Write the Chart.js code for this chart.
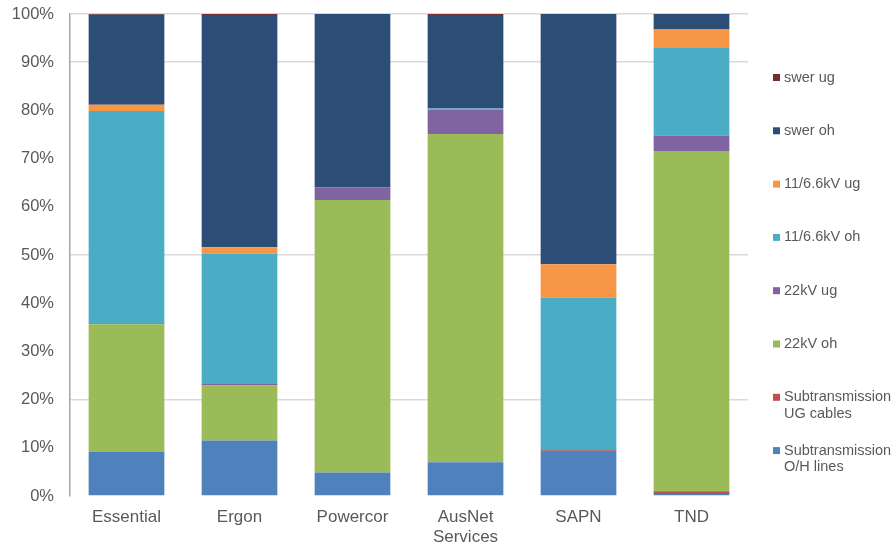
<!DOCTYPE html>
<html>
<head>
<meta charset="utf-8">
<script src="https://cdn.jsdelivr.net/npm/chart.js@4/dist/chart.umd.min.js"></script>
<style>
  html, body { margin: 0; padding: 0; background: #fff; }
  #wrap { width: 896px; height: 546px; position: relative; }
</style>
</head>
<body>
<div id="wrap"><canvas id="lengthChart"></canvas></div>
<script>
// categories and shares (%) per network, bottom of the stack first
const networks = ['Essential', 'Ergon', 'Powercor', ['AusNet', 'Services'], 'SAPN', 'TND'];

const subOhLines   = [9.2, 11.5, 4.9, 7.0, 9.4, 0.4];
const subUgCables  = [0.05, 0, 0, 0, 0.3, 0.6];
const kv22Oh       = [26.4, 11.4, 56.5, 68.1, 0, 70.6];
const kv22Ug       = [0.2, 0.5, 2.6, 5.1, 0, 3.2];
const kv11Oh       = [44.0, 26.9, 0, 0.2, 31.5, 18.3];
const kv11Ug       = [1.3, 1.3, 0, 0, 6.9, 3.7];
const swerOh       = [18.7, 48.2, 36.0, 19.4, 51.9, 3.2];
const swerUg       = [0.2, 0.2, 0, 0.2, 0, 0];

const yTicks = [0, 10, 20, 30, 40, 50, 60, 70, 80, 90, 100];
const gridAt = [20, 50, 90, 100];

document.addEventListener('DOMContentLoaded', function () {
  Chart.defaults.font.family = "'Liberation Sans', Arial, sans-serif";
  Chart.defaults.color = '#595959';

  // legend drawn in the right margin, top item first
  const sideLegend = {
    id: 'sideLegend',
    afterDraw(chart) {
      const ctx = chart.ctx;
      const items = chart.data.datasets.slice().reverse();
      ctx.save();
      ctx.font = "14.5px 'Liberation Sans', Arial, sans-serif";
      ctx.textBaseline = 'middle';
      ctx.textAlign = 'left';
      items.forEach(function (ds, i) {
        const y = 77.5 + i * 53.3;
        ctx.fillStyle = ds.backgroundColor;
        ctx.fillRect(773, y - 3.5, 7, 7);
        ctx.fillStyle = '#595959';
        const lines = Array.isArray(ds.label) ? ds.label : [ds.label];
        lines.forEach(function (t, j) {
          ctx.fillText(t, 784, y + j * 16.5);
        });
      });
      ctx.restore();
    }
  };

  const ctx = document.getElementById('lengthChart').getContext('2d');

  new Chart(ctx, {
    type: 'bar',
    data: {
      labels: networks,
      datasets: [
        { label: ['Subtransmission', 'O/H lines'], data: subOhLines, backgroundColor: '#4F81BD' },
        { label: ['Subtransmission', 'UG cables'], data: subUgCables, backgroundColor: '#C0504D' },
        { label: '22kV oh', data: kv22Oh, backgroundColor: '#9BBB59' },
        { label: '22kV ug', data: kv22Ug, backgroundColor: '#8064A2' },
        { label: '11/6.6kV oh', data: kv11Oh, backgroundColor: '#4BACC6' },
        { label: '11/6.6kV ug', data: kv11Ug, backgroundColor: '#F79646' },
        { label: 'swer oh', data: swerOh, backgroundColor: '#2C4D75' },
        { label: 'swer ug', data: swerUg, backgroundColor: '#772C2A' },
      ],
    },
    options: {
      responsive: true,
      maintainAspectRatio: false,
      animation: false,
      barPercentage: 0.67,
      categoryPercentage: 1,
      layout: {
        padding: { top: 14, right: 148, left: 0, bottom: 0 },
      },
      plugins: {
        legend: { display: false },
        tooltip: { enabled: false },
      },
      scales: {
        x: {
          stacked: true,
          grid: { display: false, drawTicks: false },
          border: { display: false },
          ticks: {
            padding: 12,
            color: '#595959',
            font: { size: 17, lineHeight: 1.15 },
            maxRotation: 0,
          },
          afterFit: function (axis) {
            axis.height = 50;
            axis.paddingLeft = 0;
            axis.paddingRight = 0;
          },
        },
        y: {
          stacked: true,
          min: 0,
          max: 100,
          afterBuildTicks: function (axis) {
            axis.ticks = yTicks.map(function (v) { return { value: v }; });
          },
          grid: {
            drawTicks: false,
            color: function (c) {
              const v = yTicks[c.index];
              return gridAt.indexOf(v) >= 0 ? '#d9d9d9' : 'rgba(255,255,255,0)';
            },
            lineWidth: 1.5,
          },
          border: { display: true, color: '#a6a6a6', width: 1.5 },
          ticks: {
            padding: 16,
            color: '#595959',
            font: { size: 16.5 },
            callback: function (v) { return v + '%'; },
          },
          afterFit: function (axis) {
            axis.width = 70;
            axis.paddingTop = 0;
            axis.paddingBottom = 0;
          },
        },
      },
      elements: {
        bar: { borderWidth: 0, borderSkipped: false },
      },
    },
    plugins: [sideLegend],
  });
});
</script>
</body>
</html>
